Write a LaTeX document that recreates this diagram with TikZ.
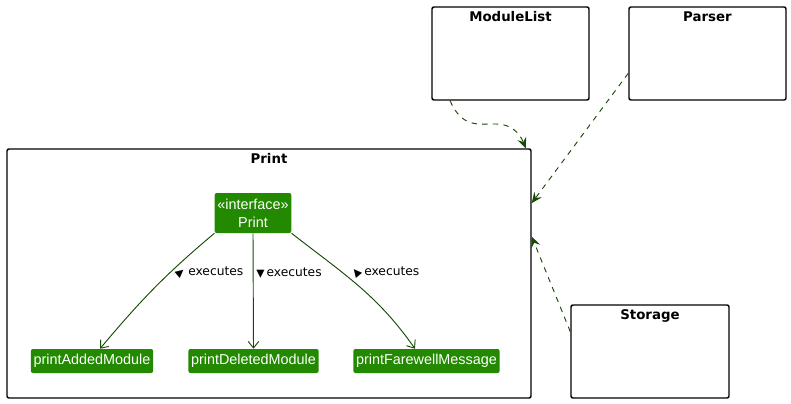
\documentclass[tikz,border=0pt]{standalone}
\usepackage{fontspec}
\setmainfont{DejaVu Sans}
\newfontfamily\nodefont{Liberation Sans}
\usetikzlibrary{arrows.meta,fit,calc}
\definecolor{umlgreen}{RGB}{34,137,0}
\definecolor{linkgreen}{RGB}{22,74,6}
\newcommand\tri[1]{\rotatebox[origin=c]{#1}{\fontsize{8}{8}\selectfont ▲}}

\tikzset{
  pkg/.style={draw=black, line width=1.1pt, rounded corners=1.5pt, inner sep=0pt},
  pkgtitle/.style={font=\bfseries\fontsize{10}{11}\selectfont, anchor=north, inner sep=0pt},
  method/.style={fill=umlgreen, text=white, rounded corners=1.5pt, inner xsep=2pt,
    font=\nodefont\fontsize{10.8}{12.5}\selectfont, minimum height=18pt},
  exec/.style={draw=linkgreen, line width=0.7pt, -{Straight Barb[length=5pt,width=8pt]}},
  uses/.style={draw=linkgreen, line width=0.7pt, dash pattern=on 4pt off 4pt,
    -{Stealth[length=8pt,width=7pt,inset=3pt]}},
  lbl/.style={font=\fontsize{9.2}{11}\selectfont, inner sep=0pt}
}

\begin{document}
\begin{tikzpicture}[x=0.75pt, y=-0.75pt]
		%%%%% START %%%%%
		\useasboundingbox (0, 0) rectangle (791, 403);
		
		\node[pkg, fit={(432, 7) (589, 100)}] (modulelist) {};
		\node[pkgtitle] at ($(modulelist.north)+(0, 5)$) (modulelisttitle) {ModuleList};
		\node[pkg, fit={(629, 7) (786, 100)}] (parser) {};
		\node[pkgtitle] at ($(parser.north)+(0, 5)$) (parsertitle) {Parser};
		\node[pkg, fit={(571, 305) (729, 398)}] (storage) {};
		\node[pkgtitle] at ($(storage.north)+(0, 5)$) (storagetitle) {Storage};
		
		\node[pkg, fit={(7, 149) (531, 398)}] (print) {};
		\node[pkgtitle] at ($(print.north)+(0, 5)$) (printtitle) {Print};
		
		\node[method, align=center, minimum width=57pt, minimum height=30pt, inner ysep=1pt,
		  font=\nodefont\fontsize{10.8}{13.5}\selectfont] (iface) at (253, 213) {«interface»\\Print};
		
		\node[method] (added) at (92, 361) {printAddedModule};
		\node[method] (deleted) at (253.5, 361) {printDeletedModule};
		\node[method] (farewell) at (426.5, 361) {printFarewellMessage};
		
		\draw[exec] (iface.south west) to[out=-140, in=50] (added.north -| 100, 0);
		\draw[exec] (iface.south) -- (deleted.north);
		\draw[exec] (iface.south east) to[out=-38, in=125] (farewell.north -| 415, 0);
		
		\node[lbl] (addedlbl) at (209, 273) {\tri{-50}\,executes};
		\node[lbl] (deletedlbl) at (289, 273) {\tri{180}\,executes};
		\node[lbl] (farewelllbl) at (385, 273) {\tri{40}\,executes};
		
		%% dependencies on the Print package
		\draw[uses] (modulelist.-142) .. controls (462, 128) and (478, 124) .. (496, 124)
		  .. controls (512, 124) and (520, 134) .. (print.26);
		\draw[uses] (parser.194) -- (print.15.7);
		\draw[uses] (storage.166.8) -- (print.8.5);
		%%%%% END %%%%%
\end{tikzpicture}
\end{document}
